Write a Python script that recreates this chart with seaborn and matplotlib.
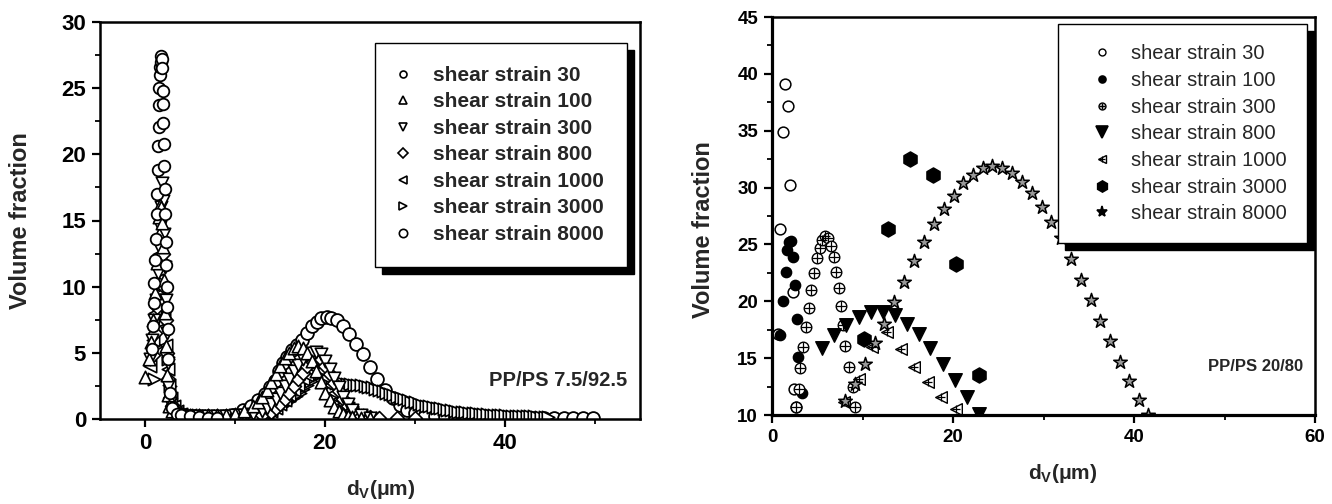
import matplotlib
matplotlib.use('Agg')
import matplotlib.pyplot as plt
import seaborn as sns
from matplotlib.lines import Line2D
from matplotlib.ticker import MultipleLocator, FixedLocator

# ---------------- data: left panel (PP/PS 7.5/92.5) ----------------
labels = ['shear strain 30', 'shear strain 100', 'shear strain 300', 'shear strain 800',
          'shear strain 1000', 'shear strain 3000', 'shear strain 8000']

L30_x = [0.75, 0.85, 0.95, 1.05, 1.15, 1.25, 1.30, 1.35, 1.40, 1.45, 1.50, 1.55, 1.60, 1.65,
         1.70, 1.75, 1.80, 1.85, 1.90, 1.95, 2.00, 2.05, 2.10, 2.15, 2.20, 2.25, 2.30, 2.35,
         2.40, 2.45, 2.50, 2.60, 2.75, 3.00, 3.50, 4.00, 5.00, 6.00, 7.00, 8.00]
L30_y = [5.3, 7.0, 8.8, 10.3, 12.0, 13.6, 15.5, 17.0, 18.8, 20.6, 22.1, 23.7, 25.0, 26.0,
         26.6, 27.0, 27.4, 27.2, 26.5, 24.8, 23.8, 22.4, 20.8, 19.1, 17.4, 15.5, 13.4, 11.6,
         10.0, 8.5, 6.8, 4.5, 2.0, 0.8, 0.4, 0.3, 0.2, 0.15, 0.1, 0.1]

L100_x = [0.0, 0.4, 0.7, 0.9, 1.1, 1.3, 1.5, 1.6, 1.7, 1.8, 1.9, 2.0, 2.1, 2.2, 2.3, 2.4, 2.5,
          2.7, 3.0, 3.5, 4.0, 5, 6, 7, 8, 9, 10, 11, 12, 12.5, 13, 13.5, 14, 14.5, 15, 15.5,
          16, 16.5, 17, 17.5, 18, 18.5, 19, 19.5, 20, 20.5, 21, 21.5, 22, 22.5, 23, 24, 25]
L100_y = [3.2, 4.5, 5.8, 7.5, 9.5, 11.8, 14.0, 15.3, 16.2, 16.0, 14.8, 13.0, 10.5, 8.0, 5.5,
          3.3, 1.8, 1.0, 0.6, 0.4, 0.3, 0.3, 0.3, 0.3, 0.3, 0.3, 0.4, 0.6, 1.0, 1.3, 1.7, 2.2,
          2.8, 3.4, 4.0, 4.6, 5.0, 5.4, 5.5, 5.4, 5.0, 4.4, 3.6, 2.8, 2.0, 1.4, 0.9, 0.6, 0.4,
          0.25, 0.15, 0.1, 0.05]

L300_x = [0.5, 0.8, 1.0, 1.2, 1.4, 1.55, 1.7, 1.8, 1.9, 2.0, 2.1, 2.2, 2.3, 2.4, 2.5, 2.6, 2.8,
          3.0, 3.5, 4, 5, 6, 7, 8, 9, 10, 11, 12, 13, 13.5, 14, 14.5, 15, 15.5, 16, 16.5, 17,
          17.5, 18, 18.5, 19, 19.5, 20, 20.5, 21, 21.5, 22, 22.5, 23, 24, 25]
L300_y = [4.5, 6.0, 7.5, 9.0, 11.0, 13.0, 14.5, 16.0, 17.8, 16.5, 14.0, 11.5, 9.0, 6.5, 4.2,
          2.5, 1.2, 0.6, 0.3, 0.3, 0.25, 0.25, 0.25, 0.25, 0.25, 0.3, 0.3, 0.4, 0.6, 0.8, 1.1,
          1.5, 2.0, 2.5, 3.0, 3.6, 4.1, 4.5, 4.8, 5.0, 5.05, 4.9, 4.4, 3.8, 3.1, 2.4, 1.7, 1.1,
          0.7, 0.3, 0.1]

L800_x = [0.9, 1.1, 1.3, 1.5, 1.7, 1.85, 2.0, 2.15, 2.3, 2.45, 2.6, 2.8, 3.0, 3.3, 3.6, 4.0,
          4.5, 5, 6, 7, 8, 9, 10, 11, 12, 13, 14, 14.5, 15, 15.5, 16, 16.5, 17, 17.5, 18, 18.5,
          19, 19.5, 20, 20.5, 21, 21.5, 22, 22.5, 23, 23.5, 24, 25, 26, 28, 30]
L800_y = [4.8, 6.5, 8.5, 10.2, 12.0, 13.5, 12.5, 10.0, 7.5, 5.0, 3.0, 1.6, 1.0, 0.8, 0.5, 0.4,
          0.3, 0.25, 0.2, 0.2, 0.2, 0.2, 0.2, 0.2, 0.2, 0.3, 0.5, 0.8, 1.1, 1.5, 2.0, 2.5, 3.0,
          3.5, 4.0, 4.4, 4.6, 4.5, 4.0, 3.4, 2.7, 2.1, 1.5, 1.0, 0.7, 0.4, 0.25, 0.15, 0.1,
          0.05, 0.05]

L1000_x = [0.6, 0.9, 1.1, 1.3, 1.5, 1.7, 1.9, 2.1, 2.3, 2.5, 2.7, 2.9, 3.2, 3.5, 4, 4.5, 5,
           5.5, 6, 7, 8, 9, 10, 11, 12, 13, 13.5, 14, 14.5, 15, 15.5, 16, 16.5, 17, 17.5, 18,
           18.5, 19, 19.5, 20, 20.5, 21, 21.5, 22, 22.5, 23, 23.5, 24, 25]
L1000_y = [4.0, 6.0, 8.0, 10.5, 12.5, 12.0, 10.0, 7.8, 5.6, 3.8, 2.6, 1.6, 1.0, 0.6, 0.4, 0.3,
           0.3, 0.25, 0.2, 0.2, 0.2, 0.2, 0.2, 0.2, 0.2, 0.3, 0.4, 0.6, 0.8, 1.1, 1.4, 1.8, 2.2,
           2.6, 3.0, 3.3, 3.6, 3.8, 3.7, 3.2, 2.6, 2.0, 1.5, 1.1, 0.8, 0.5, 0.3, 0.2, 0.1]

L3000_x = [1.0, 1.3, 1.6, 1.9, 2.2, 2.5, 2.8, 3.1, 3.5, 4.0, 5, 6, 7, 8, 9, 10, 11, 12,
           12.4, 12.8, 13.2, 13.6, 14.0, 14.4, 14.8, 15.2, 15.6, 16.0, 16.4, 16.8, 17.2, 17.6,
           18.0, 18.4, 18.8, 19.2, 19.6, 20.0, 20.4, 20.8, 21.2, 21.6, 22.0, 22.4, 22.8, 23.2,
           23.6, 24.0, 24.4, 24.8, 25.2, 25.6, 26.0, 26.4, 26.8, 27.2, 27.6, 28.0, 28.4, 28.8,
           29.2, 29.6, 30.0, 30.4, 30.8, 31.2, 31.6, 32.0, 32.4, 32.8, 33.2, 33.6, 34.0, 34.4,
           34.8, 35.2, 35.6, 36.0, 36.4, 36.8, 37.2, 37.6, 38.0, 38.4, 38.8, 39.2, 39.6, 40.0,
           40.4, 40.8, 41.2, 41.6, 42.0, 42.4, 42.8, 43.2, 43.6, 44.0, 44.4, 44.8]
L3000_y = [3.0, 5.5, 8.0, 9.5, 7.5, 4.5, 2.5, 1.3, 0.8, 0.5, 0.3, 0.2, 0.2, 0.15, 0.15, 0.15,
           0.15, 0.2,
           0.2, 0.25, 0.3, 0.4, 0.5, 0.65, 0.8, 0.95, 1.15, 1.35, 1.55, 1.75, 2.0, 2.25,
           2.55, 2.85, 3.15, 3.4, 3.45, 3.1, 2.9, 2.8, 2.75, 2.7, 2.7, 2.65, 2.65, 2.6,
           2.6, 2.55, 2.5, 2.45, 2.4, 2.3, 2.2, 2.1, 2.0, 1.9, 1.8, 1.7, 1.6, 1.5,
           1.4, 1.3, 1.25, 1.15, 1.05, 1.0, 0.95, 0.9, 0.85, 0.8, 0.75, 0.7, 0.65, 0.6,
           0.55, 0.52, 0.5, 0.47, 0.45, 0.42, 0.4, 0.38, 0.36, 0.34, 0.32, 0.3, 0.28, 0.27,
           0.26, 0.25, 0.24, 0.23, 0.22, 0.21, 0.2, 0.19, 0.18, 0.17, 0.16, 0.15]

L8000_x = [7.0, 8.0, 9.0, 9.8, 10.9, 11.8, 12.6, 13.3, 13.9, 14.4, 14.9, 15.3, 15.8, 16.3, 16.9,
           17.4, 18.0, 18.5, 19.1, 19.6, 20.2, 20.7, 21.3, 22.0, 22.7, 23.4, 24.2, 25.0, 25.8,
           26.7, 27.5, 28.3, 29.1, 30.0, 31.1, 32.2, 33.3, 34.4, 35.5, 36.6, 37.7, 38.8, 39.9,
           41.0, 42.1, 43.2, 44.3, 45.4, 46.5, 47.6, 48.7, 49.8]
L8000_y = [0.1, 0.12, 0.2, 0.3, 0.7, 1.0, 1.4, 1.9, 2.4, 2.9, 3.6, 4.2, 4.7, 5.2, 5.6,
           6.0, 6.5, 7.0, 7.35, 7.6, 7.7, 7.6, 7.45, 7.0, 6.4, 5.7, 4.9, 3.9, 3.0,
           2.2, 1.6, 1.05, 0.7, 0.45, 0.3, 0.22, 0.18, 0.15, 0.13, 0.12, 0.11, 0.1, 0.1,
           0.1, 0.1, 0.1, 0.1, 0.1, 0.1, 0.1, 0.1, 0.1]

# ---------------- data: right panel (PP/PS 20/80) ----------------
R30_x = [0.7, 0.9, 1.25, 1.45, 1.75, 2.0, 2.3, 2.4, 2.6]
R30_y = [17.1, 26.4, 34.9, 39.1, 37.2, 30.2, 20.8, 12.3, 10.7]

R100_x = [0.9, 1.25, 1.5, 1.65, 1.9, 2.1, 2.3, 2.55, 2.75, 2.9, 3.3]
R100_y = [17.0, 20.0, 22.6, 24.5, 25.2, 25.3, 23.9, 21.4, 18.4, 15.1, 11.9]

R300_x = [2.6, 3.0, 3.1, 3.45, 3.75, 4.05, 4.3, 4.6, 4.95, 5.25, 5.5, 5.85, 6.2, 6.5, 6.8,
          7.05, 7.35, 7.65, 7.9, 8.1, 8.55, 8.9, 9.2]
R300_y = [10.7, 12.3, 14.1, 16.0, 17.7, 19.4, 21.0, 22.5, 23.8, 24.7, 25.4, 25.7, 25.6, 24.9,
          23.9, 22.6, 21.2, 19.6, 17.9, 16.1, 14.2, 12.5, 10.7]

R800_x = [5.5, 6.9, 8.2, 9.6, 10.9, 12.3, 13.6, 14.9, 16.2, 17.5, 18.9, 20.2, 21.5, 22.9]
R800_y = [15.9, 17.0, 17.9, 18.6, 19.1, 19.1, 18.8, 18.0, 17.1, 15.9, 14.5, 13.1, 11.6, 10.1]

R1000_x = [8.0, 9.6, 11.1, 12.7, 14.2, 15.7, 17.2, 18.7, 20.3]
R1000_y = [11.1, 13.2, 16.0, 17.3, 15.8, 14.2, 12.9, 11.6, 10.5]

R3000_x = [10.2, 12.8, 15.25, 17.8, 20.3, 22.9]
R3000_y = [16.7, 26.4, 32.5, 31.1, 23.3, 13.5]

R8000_x = [8.1, 9.2, 10.3, 11.4, 12.4, 13.5, 14.6, 15.7, 16.8, 17.9, 19.0, 20.1, 21.1, 22.2,
           23.3, 24.3, 25.4, 26.5, 27.6, 28.7, 29.8, 30.8, 31.9, 33.0, 34.1, 35.2, 36.2, 37.3,
           38.4, 39.5, 40.6, 41.6]
R8000_y = [11.2, 12.7, 14.5, 16.3, 18.0, 19.9, 21.7, 23.5, 25.2, 26.8, 28.1, 29.3, 30.4, 31.1,
           31.7, 31.9, 31.7, 31.3, 30.5, 29.5, 28.3, 27.0, 25.6, 23.7, 21.9, 20.1, 18.3, 16.5,
           14.7, 13.0, 11.3, 10.0]

# ---------------- style ----------------
sns.set_style('ticks')
plt.rcParams['font.family'] = ['Liberation Sans', 'DejaVu Sans']
plt.rcParams['font.weight'] = 'bold'
plt.rcParams['mathtext.fontset'] = 'custom'
plt.rcParams['mathtext.rm'] = 'Liberation Sans:bold'
plt.rcParams['mathtext.bf'] = 'Liberation Sans:bold'
plt.rcParams['mathtext.it'] = 'Liberation Sans:bold'

W, H = 1332, 504
fig = plt.figure(figsize=(W / 100, H / 100), dpi=100)
fig.patch.set_facecolor('white')
axL = fig.add_axes([100 / W, 1 - 419 / H, 540 / W, 397 / H])
axR = fig.add_axes([772 / W, 1 - 415 / H, 543 / W, 398 / H])


def scat(ax, x, y, marker, s, fc='white', ec='black', lw=1.0):
    if ec is None:
        sns.scatterplot(x=x, y=y, ax=ax, marker=marker, s=s, color=fc, linewidth=lw, legend=False)
    else:
        sns.scatterplot(x=x, y=y, ax=ax, marker=marker, s=s, color=fc, edgecolor=ec,
                        linewidth=lw, legend=False)


# left panel
scat(axL, L8000_x, L8000_y, 'o', 85, lw=1.3)
scat(axL, L3000_x, L3000_y, '>', 80, lw=1.2)
scat(axL, L1000_x, L1000_y, '<', 80, lw=1.2)
scat(axL, L800_x, L800_y, 'D', 50, lw=1.2)
scat(axL, L300_x, L300_y, 'v', 80, lw=1.2)
scat(axL, L100_x, L100_y, '^', 80, lw=1.2)
scat(axL, L30_x, L30_y, 'o', 70, lw=1.3)

# right panel
scat(axR, R30_x, R30_y, 'o', 60, lw=1.1)
scat(axR, R100_x, R100_y, 'o', 55, fc='black')
scat(axR, R300_x, R300_y, 'o', 58, fc='white', lw=1.0)
scat(axR, R300_x, R300_y, '+', 42, fc='black', ec=None, lw=0.9)
scat(axR, R800_x, R800_y, 'v', 95, fc='black')
scat(axR, R1000_x, R1000_y, '<', 70, fc='white', lw=1.0)
scat(axR, R1000_x, R1000_y, '+', 40, fc='black', ec=None, lw=0.9)
scat(axR, R3000_x, R3000_y, 'h', 120, fc='black')
scat(axR, R8000_x, R8000_y, '*', 105, fc='#9a9a9a', lw=1.1)

# axes cosmetics
axL.set_xlim(-5, 55)
axL.set_ylim(0, 30)
axL.xaxis.set_major_locator(FixedLocator([0, 20, 40]))
axL.xaxis.set_minor_locator(FixedLocator([10, 30, 50]))
axL.yaxis.set_major_locator(MultipleLocator(5))
axL.yaxis.set_minor_locator(MultipleLocator(2.5))

axR.set_xlim(0, 60)
axR.set_ylim(10, 45)
axR.xaxis.set_major_locator(MultipleLocator(20))
axR.xaxis.set_minor_locator(FixedLocator([10, 30, 50]))
axR.yaxis.set_major_locator(MultipleLocator(5))
axR.yaxis.set_minor_locator(MultipleLocator(2.5))

for ax, lsize in ((axL, 16), (axR, 13.5)):
    ax.set_facecolor('white')
    ax.grid(False)
    for sp in ax.spines.values():
        sp.set_visible(True)
        sp.set_linewidth(1.8)
        sp.set_color('black')
    ax.tick_params(which='major', direction='out', length=6, width=1.6, labelsize=lsize,
                   pad=4, color='black', labelcolor='black')
    ax.tick_params(which='minor', direction='out', length=3.5, width=1.3, color='black')
    ax.tick_params(top=False, right=False, which='both')
axR.spines['left'].set_linewidth(2.3)
axR.spines['bottom'].set_linewidth(2.3)

axL.set_ylabel('Volume fraction', fontsize=17, fontweight='bold')
axL.yaxis.set_label_coords(-0.126, 0.5)
axL.set_xlabel(r'$\mathbf{d_V(\mu m)}$', fontsize=15)
axL.xaxis.set_label_coords(0.52, -0.149)

axR.set_ylabel('Volume fraction', fontsize=17, fontweight='bold')
axR.yaxis.set_label_coords(-0.105, 0.467)
axR.set_xlabel(r'$\mathbf{d_V(\mu m)}$', fontsize=15)
axR.xaxis.set_label_coords(0.536, -0.118)

axL.text(0.976, 0.098, 'PP/PS 7.5/92.5', transform=axL.transAxes, ha='right', va='center',
         fontsize=14.5, fontweight='bold')
axR.text(0.978, 0.123, 'PP/PS 20/80', transform=axR.transAxes, ha='right', va='center',
         fontsize=12, fontweight='bold')


# legends
def h(marker, ms, fc='white', mew=1.2):
    return Line2D([], [], ls='none', marker=marker, ms=ms, mfc=fc, mec='black', mew=mew)


hL = [h('o', 5), h('^', 6), h('v', 6), h('D', 5), h('<', 6), h('>', 6), h('o', 6)]
legL = axL.legend(hL, labels, loc='upper right', bbox_to_anchor=(0.976, 0.947),
                  frameon=True, fancybox=False, framealpha=1, edgecolor='black',
                  prop=dict(size=15, weight='bold'), borderpad=1.1, labelspacing=0.36,
                  handlelength=0.5, handletextpad=1.2, borderaxespad=0,
                  shadow={'ox': 5, 'oy': -5, 'color': 'black', 'alpha': 1})
legL.get_frame().set_linewidth(1.0)

hR = [h('o', 5, mew=1.0), h('o', 5, fc='black'),
      (h('o', 5, fc='#cccccc', mew=1.0),
       Line2D([], [], ls='none', marker='+', ms=5, mec='black', mew=0.9)),
      h('v', 8, fc='black'),
      (h('<', 6, mew=1.0), Line2D([], [], ls='none', marker='+', ms=5, mec='black', mew=0.9)),
      h('h', 8, fc='black'), h('*', 8, fc='black')]
legR = axR.legend(hR, labels, loc='upper right', bbox_to_anchor=(0.985, 0.982),
                  frameon=True, fancybox=False, framealpha=1, edgecolor='black',
                  prop=dict(size=14.5, weight='normal'), borderpad=1.0, labelspacing=0.38,
                  handlelength=2.3, handletextpad=0.3, borderaxespad=0,
                  shadow={'ox': 5, 'oy': -5, 'color': 'black', 'alpha': 1})
legR.get_frame().set_linewidth(1.0)

fig.savefig('out.png', dpi=100, facecolor='white')
